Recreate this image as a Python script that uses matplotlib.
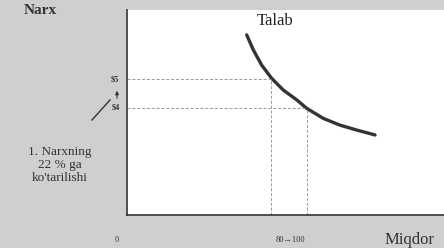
import matplotlib
matplotlib.use('Agg')
import matplotlib.pyplot as plt
import numpy as np

# demand curve (Talab)
quantity = [66.5, 70.2, 74.8, 80.4, 86.8, 94.3, 99.8, 109.1, 118.3, 127.6, 137.8]
price = [6.52, 6.00, 5.48, 5.02, 4.62, 4.28, 3.99, 3.64, 3.41, 3.24, 3.07]

q_marks = [80, 100]
p_marks = [5, 4]
p_labels = ["$5", "$4"]

plt.rcParams['font.family'] = ['Liberation Serif', 'DejaVu Serif']

fig = plt.figure(figsize=(4.44, 2.48), dpi=100)
fig.patch.set_facecolor('#cfcfcf')
ax = fig.add_axes([127/444, 1 - 215/248, 1 - 127/444, (215 - 10)/248])
ax.set_facecolor('white')

ax.plot(quantity, price, color='#333333', lw=2.4, solid_capstyle='round',
        solid_joinstyle='round')

ylo = 4 - (215 - 108) / 29
for q, p in zip(q_marks, p_marks):
    ax.plot([0, q], [p, p], color='#999999', lw=0.7, ls=(0, (3, 2)))
    ax.plot([q, q], [ylo, p], color='#999999', lw=0.7, ls=(0, (3, 2)))

ax.set_xlim(0, (444 - 127) / 1.8)
ax.set_ylim(ylo, 5 + (79 - 10) / 29)
for s in ['top', 'right']:
    ax.spines[s].set_visible(False)
for s in ['left', 'bottom']:
    ax.spines[s].set_color('#333333')
    ax.spines[s].set_linewidth(1.2)
ax.set_xticks([])
ax.set_yticks([])

ax.text(72, 6.72, "Talab", fontsize=12, color='#222222', ha='left', va='bottom')

# labels outside the axes, in figure pixels
def ftext(x, y, s, **kw):
    fig.text(x / 444, 1 - y / 248, s, color='#333333', **kw)

ftext(40, 10, "Narx", fontsize=11, fontweight='bold', ha='center', va='center')
ftext(115, 80, p_labels[0], fontsize=6, fontweight='bold', ha='center', va='center')
ftext(116, 108, p_labels[1], fontsize=6, fontweight='bold', ha='center', va='center')
ftext(60, 165, "1. Narxning\n22 % ga\nko'tarilishi", fontsize=9.5, ha='center', va='center',
      linespacing=1.15)
ftext(117, 240, "0", fontsize=6, ha='center', va='center')
ftext(290, 240, "80\u2192100", fontsize=6, ha='center', va='center')
ftext(410, 240, "Miqdor", fontsize=12, ha='center', va='center')

fig.add_artist(matplotlib.patches.FancyArrowPatch((117/444, 1 - 101/248), (117/444, 1 - 88/248),
               transform=fig.transFigure, arrowstyle='-|>', mutation_scale=5, color='#333333', lw=0.8))
fig.add_artist(matplotlib.lines.Line2D([92/444, 110/444], [1 - 120/248, 1 - 100/248],
               transform=fig.transFigure, color='#333333', lw=1))

fig.savefig('out.png', dpi=100, facecolor=fig.get_facecolor())
